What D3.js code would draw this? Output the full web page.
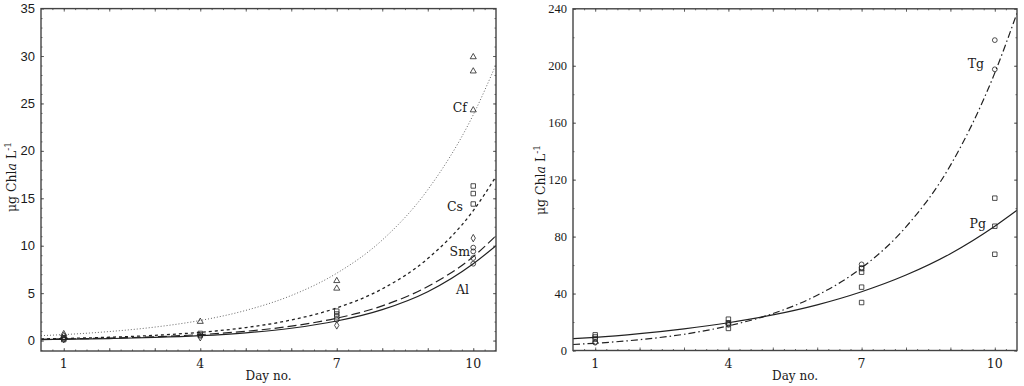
<!DOCTYPE html>
<html>
<head>
<meta charset="utf-8">
<script src="https://cdn.jsdelivr.net/npm/d3@7"></script>
<style>
  body { margin: 0; background: #fff; }
  svg { display: block; }
  .lbl { font-family: "DejaVu Serif", serif; fill: #1a1a1a; }
</style>
</head>
<body>
<svg id="chart" width="1024" height="386"></svg>
<script>
// curves at these days
const curveDays = [0.5, 1, 2, 3, 4, 5, 6, 7, 8, 9, 10, 10.5];
const cfCurve = [0.52, 0.63, 0.95, 1.42, 2.12, 3.18, 4.75, 7.1, 10.6, 15.9, 23.8, 29.1];
const csCurve = [0.17, 0.22, 0.35, 0.55, 0.87, 1.37, 2.17, 3.44, 5.45, 8.64, 13.7, 17.3];
const smCurve = [0.135, 0.17, 0.26, 0.40, 0.63, 0.98, 1.52, 2.36, 3.66, 5.7, 8.85, 11.05];
const alCurve = [0.105, 0.133, 0.21, 0.33, 0.52, 0.82, 1.30, 2.06, 3.26, 5.15, 8.1, 10.0];
const tgCurve = [4.2, 5.1, 7.6, 11.4, 17.3, 25.9, 38.8, 58, 86.8, 130, 195, 237];
const pgCurve = [8.3, 9.2, 11.8, 15.2, 19.5, 25.0, 32.1, 41.3, 53.0, 68.0, 87.3, 98.5];

// measured points [day, value]
const cfPts = [[1, 0.7], [1, 0.5], [4, 2.0], [7, 6.3], [7, 5.5], [10, 29.9], [10, 28.4], [10, 24.3]];
const csPts = [[1, 0.2], [1, 0.1], [4, 0.75], [4, 0.6], [7, 3.1], [7, 2.8], [7, 2.5], [10, 16.3], [10, 15.5], [10, 14.4]];
const smPts = [[1, 0.3], [4, 0.5], [7, 2.2], [10, 9.8], [10, 9.4], [10, 8.7], [10, 8.1]];
const alPts = [[1, 0.15], [4, 0.35], [7, 1.6], [10, 10.8]];
const tgPts = [[1, 6], [1, 5.5], [4, 19], [4, 18], [7, 60.5], [7, 58], [10, 218], [10, 197.5]];
const pgPts = [[1, 11], [1, 9.5], [1, 8], [4, 22], [4, 19.5], [4, 15.5], [7, 57.5], [7, 55], [7, 44.5], [7, 33.7], [10, 107], [10, 87.3], [10, 67.6]];

const dayTicks = [1, 4, 7, 10];
const leftYTicks = [0, 5, 10, 15, 20, 25, 30, 35];
const rightYTicks = [0, 40, 80, 120, 160, 200, 240];

const svg = d3.select('#chart');

function panel(o) {
  const x = d3.scaleLinear().domain([0.5, 10.5]).range([o.x0, o.x1]);
  const y = d3.scaleLinear().domain(o.yDomain).range([o.y1, o.y0]);
  const g = svg.append('g');

  // inward ticks on all four sides
  const tk = (axis, tr, vals, len) => g.append('g')
    .attr('transform', tr)
    .call(axis.tickValues(vals).tickSize(len).tickFormat(''))
    .call(s => s.select('.domain').remove())
    .selectAll('line').attr('stroke', '#444').attr('stroke-width', 0.8);

  const xMinor = d3.range(0.75, 10.5, 0.25);
  const xMajor = d3.range(1, 11, 1);
  tk(d3.axisTop(x), `translate(0,${o.y1})`, xMinor, 1.5);
  tk(d3.axisTop(x), `translate(0,${o.y1})`, xMajor, 3);
  tk(d3.axisBottom(x), `translate(0,${o.y0})`, xMinor, 1.5);
  tk(d3.axisBottom(x), `translate(0,${o.y0})`, xMajor, 3);
  tk(d3.axisRight(y), `translate(${o.x0},0)`, o.yMinor, 1.5);
  tk(d3.axisRight(y), `translate(${o.x0},0)`, o.yTicks, 3);
  tk(d3.axisLeft(y), `translate(${o.x1},0)`, o.yMinor, 1.5);
  tk(d3.axisLeft(y), `translate(${o.x1},0)`, o.yTicks, 3);

  // tick labels
  g.selectAll('.xl').data(dayTicks).enter().append('text')
    .attr('class', 'lbl')
    .attr('x', d => x(d)).attr('y', o.y1 + 17)
    .attr('text-anchor', 'middle').attr('font-size', 12.5)
    .text(d => d);
  g.selectAll('.yl').data(o.yTicks).enter().append('text')
    .attr('x', o.x0 - 6).attr('y', d => y(d) + 4.5)
    .attr('text-anchor', 'end')
    .attr('font-family', o.yFont).attr('font-size', o.yFontSize).attr('fill', '#1a1a1a')
    .text(d => d);

  // axis titles
  g.append('text').attr('class', 'lbl')
    .attr('x', (o.x0 + o.x1) / 2).attr('y', 380)
    .attr('text-anchor', 'middle').attr('font-size', 12)
    .text('Day no.');
  const yt = g.append('text').attr('class', 'lbl')
    .attr('transform', `translate(${o.yTitleX},${o.yTitleY}) rotate(-90)`)
    .attr('text-anchor', 'middle').attr('font-size', 12.5);
  yt.append('tspan').text('\u03bcg Chl');
  yt.append('tspan').attr('font-style', 'italic').text('a');
  yt.append('tspan').text(' L');
  yt.append('tspan').attr('font-size', 9).attr('dy', -5).text('-1');

  // fitted curves
  const clip = 'clip' + o.id;
  svg.append('clipPath').attr('id', clip).append('rect')
    .attr('x', o.x0).attr('y', o.y0).attr('width', o.x1 - o.x0).attr('height', o.y1 - o.y0);
  const line = d3.line().x((d, i) => x(curveDays[i])).y(d => y(d)).curve(d3.curveMonotoneX);
  o.curves.forEach(c => {
    g.append('path').attr('d', line(c.vals))
      .attr('clip-path', `url(#${clip})`)
      .attr('fill', 'none').attr('stroke', c.color || '#222')
      .attr('stroke-width', c.w).attr('stroke-dasharray', c.dash);
  });

  // points
  o.points.forEach(p => {
    g.selectAll(null).data(p.pts).enter().append('path')
      .attr('transform', d => `translate(${x(d[0])},${y(d[1])})`)
      .attr('d', d3.symbol().type(p.shape).size(p.size))
      .attr('fill', 'none').attr('stroke', '#222').attr('stroke-width', 0.8);
  });

  // series names
  o.names.forEach(n => {
    g.append('text').attr('class', 'lbl')
      .attr('x', n.x).attr('y', n.y).attr('text-anchor', 'end').attr('font-size', 12.5)
      .text(n.t);
  });

  // frame
  g.append('rect').attr('x', o.x0).attr('y', o.y0)
    .attr('width', o.x1 - o.x0).attr('height', o.y1 - o.y0)
    .attr('fill', 'none').attr('stroke', '#444').attr('stroke-width', 1.4);
}

panel({
  id: 'L', x0: 41, x1: 496, y0: 8.6, y1: 351, yDomain: [-1.1, 35],
  yTicks: leftYTicks, yMinor: d3.range(-1, 35, 1),
  yFont: '"Liberation Sans", Arial, sans-serif', yFontSize: 13,
  yTitleX: 16, yTitleY: 177,
  curves: [
    { vals: cfCurve, w: 0.9, dash: '1,2', color: '#555' },
    { vals: csCurve, w: 1.3, dash: '3,3' },
    { vals: smCurve, w: 1.2, dash: '9,4' },
    { vals: alCurve, w: 1.2, dash: null }
  ],
  points: [
    { pts: cfPts, shape: d3.symbolTriangle, size: 16 },
    { pts: csPts, shape: d3.symbolSquare, size: 20 },
    { pts: smPts, shape: d3.symbolCircle, size: 18 },
    { pts: alPts, shape: d3.symbolDiamond, size: 16 }
  ],
  names: [
    { t: 'Cf', x: 467, y: 112 },
    { t: 'Cs', x: 463, y: 211 },
    { t: 'Sm', x: 470, y: 256 },
    { t: 'Al', x: 469, y: 294 }
  ]
});

panel({
  id: 'R', x0: 573, x1: 1017, y0: 8.8, y1: 350.5, yDomain: [0, 240],
  yTicks: rightYTicks, yMinor: d3.range(0, 241, 20),
  yFont: '"Liberation Serif", serif', yFontSize: 12.5,
  yTitleX: 545, yTitleY: 180,
  curves: [
    { vals: tgCurve, w: 1.2, dash: '7,3,1.5,3' },
    { vals: pgCurve, w: 1.2, dash: null }
  ],
  points: [
    { pts: tgPts, shape: d3.symbolCircle, size: 18 },
    { pts: pgPts, shape: d3.symbolSquare, size: 20 }
  ],
  names: [
    { t: 'Tg', x: 984, y: 68 },
    { t: 'Pg', x: 986, y: 228 }
  ]
});
</script>
</body>
</html>
